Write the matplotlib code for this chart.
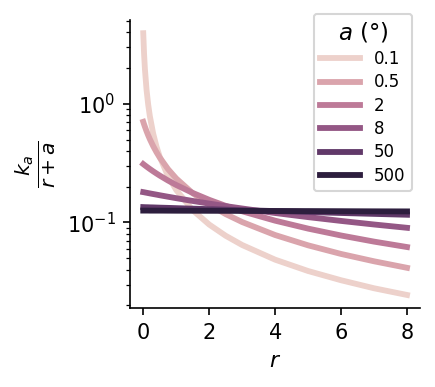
import matplotlib
matplotlib.use("Agg")
import matplotlib.pyplot as plt
import seaborn as sns

# r grid and curve values
r = [0, 0.025, 0.05, 0.1, 0.15, 0.2, 0.3, 0.4, 0.5, 0.75, 1, 1.5, 2, 2.5, 3, 4, 5, 6, 7, 8]

a_labels = ["0.1", "0.5", "2", "8", "50", "500"]

y_a01 = [3.94, 2.627, 1.97, 1.313, 0.985, 0.788, 0.563, 0.438, 0.358, 0.246,
         0.188, 0.127, 0.0961, 0.0773, 0.0646, 0.0486, 0.0390, 0.0326, 0.0279, 0.0245]
y_a05 = [0.706, 0.672, 0.642, 0.588, 0.543, 0.504, 0.441, 0.392, 0.353, 0.282,
         0.235, 0.1765, 0.1412, 0.1177, 0.1009, 0.0784, 0.0642, 0.0543, 0.0471, 0.0415]
y_a2 = [0.3107, 0.3068, 0.3031, 0.2959, 0.2890, 0.2824, 0.2701, 0.2589, 0.2485, 0.2259,
        0.2071, 0.1775, 0.1553, 0.1381, 0.1243, 0.1036, 0.0888, 0.0777, 0.0690, 0.0621]
y_a8 = [0.1803, 0.1798, 0.1792, 0.1781, 0.1770, 0.1759, 0.1738, 0.1718, 0.1697, 0.1649,
        0.1603, 0.1519, 0.1443, 0.1374, 0.1312, 0.1202, 0.1110, 0.1031, 0.0962, 0.0902]
y_a50 = [0.1348, 0.1347, 0.1346, 0.1345, 0.1344, 0.1342, 0.1340, 0.1337, 0.1334, 0.1328,
         0.1321, 0.1308, 0.1296, 0.1283, 0.1271, 0.1248, 0.1225, 0.1203, 0.1182, 0.1162]
y_a500 = [0.1260, 0.1260, 0.1260, 0.1260, 0.1260, 0.1259, 0.1259, 0.1259, 0.1259, 0.1258,
          0.1257, 0.1256, 0.1255, 0.1254, 0.1252, 0.1250, 0.1248, 0.1245, 0.1242, 0.1240]

curves = [y_a01, y_a05, y_a2, y_a8, y_a50, y_a500]

colors = sns.cubehelix_palette(len(curves))

fig = plt.figure(figsize=(2.9, 2.58), dpi=150)
ax = fig.add_axes([0.299, 0.204, 0.667, 0.744])

for y, lab, c in zip(curves, a_labels, colors):
    ax.plot(r, y, color=c, lw=2.8, label=lab)

ax.set_yscale("log")
ax.set_xticks([0, 2, 4, 6, 8])
ax.set_xlabel("$r$", fontsize=10.5)
ax.set_ylabel(r"$\frac{k_a}{r+a}$", fontsize=14)
ax.tick_params(labelsize=10)
sns.despine(ax=ax)

leg = ax.legend(title="$a$ (°)", fontsize=8, title_fontsize=11,
                loc="upper right", bbox_to_anchor=(1.0, 1.05),
                labelspacing=0.32, handlelength=2.4)

fig.savefig("out.png", dpi=150)
